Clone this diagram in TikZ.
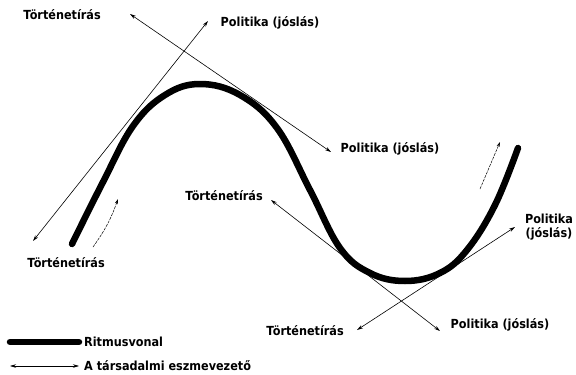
\documentclass[tikz,border=0pt]{standalone}
\usepackage{fontspec}
\setmainfont{DejaVu Sans Condensed}
\usepackage{tikz}
\usetikzlibrary{positioning,calc}
\usetikzlibrary{arrows.meta}
\tikzset{
  lbl/.style={font=\bfseries\fontsize{12.5}{14}\selectfont,inner sep=0pt,align=center},
  rhythm/.style={draw=black,line width=6.5pt,line cap=round},
  idea/.style={draw=black,line width=0.6pt,{Stealth[length=6pt,width=3.5pt]}-{Stealth[length=6pt,width=3.5pt]}},
  drift/.style={draw=black,line width=0.5pt,dash pattern=on 3pt off 1pt,-{Stealth[length=5pt,width=3pt]}},
}

\begin{document}
\begin{tikzpicture}[x=1pt,y=-1pt]
\useasboundingbox (0,0) rectangle (576,375);
% labels
\node[lbl] (tt1) at (62,15) {Történetírás};
\node[lbl] (pj1) at (270,23) {Politika (jóslás)};
\node[lbl] (pj2) at (390,149) {Politika (jóslás)};
\node[lbl] (tt2) at (66,263) {Történetírás};
\node[lbl] (tt3) at (224,196) {Történetírás};
\node[lbl] (pj3) at (549,227) {Politika\\(jóslás)};
\node[lbl] (tt4) at (305,331) {Történetírás};
\node[lbl] (pj4) at (500,325) {Politika (jóslás)};
% arrow ends
\coordinate (a1) at (130,14);
\coordinate (a2) at (331,152);
\coordinate (b1) at (33,241);
\coordinate (b2) at (208,21);
\coordinate (c1) at (271,200);
\coordinate (c2) at (440,331);
\coordinate (d1) at (357,330);
\coordinate (d2) at (515,227);
\coordinate (s1) at (93,247);
\coordinate (s2) at (118,199);
\coordinate (r1) at (480,189);
\coordinate (r2) at (500,142);
% rhythm line
\draw[rhythm] plot[smooth,tension=0.65] coordinates {(72,244) (103,182) (133,126) (165,95) (200,84) (240,95) (277,128) (310,190) (340,248) (370,273) (405,281) (440,273) (467,250) (495,205) (518,148)};
% tangents
\draw[idea] (a1) -- (a2);
\draw[idea] (b1) -- (b2);
\draw[idea] (c1) -- (c2);
\draw[idea] (d1) -- (d2);
\draw[drift] (s1) to[bend right=8] (s2);
\draw[drift] (r1) -- (r2);
% legend
\coordinate (k1) at (10,342);
\coordinate (k2) at (79,342);
\coordinate (m1) at (10,366);
\coordinate (m2) at (79,366);
\draw[rhythm] (k1) -- (k2);
\draw[idea] (m1) -- (m2);
\node[lbl,anchor=west] (leg1) at (84,342) {Ritmusvonal};
\node[lbl,anchor=west] (leg2) at (84,366) {A társadalmi eszmevezető};
\end{tikzpicture}
\end{document}
